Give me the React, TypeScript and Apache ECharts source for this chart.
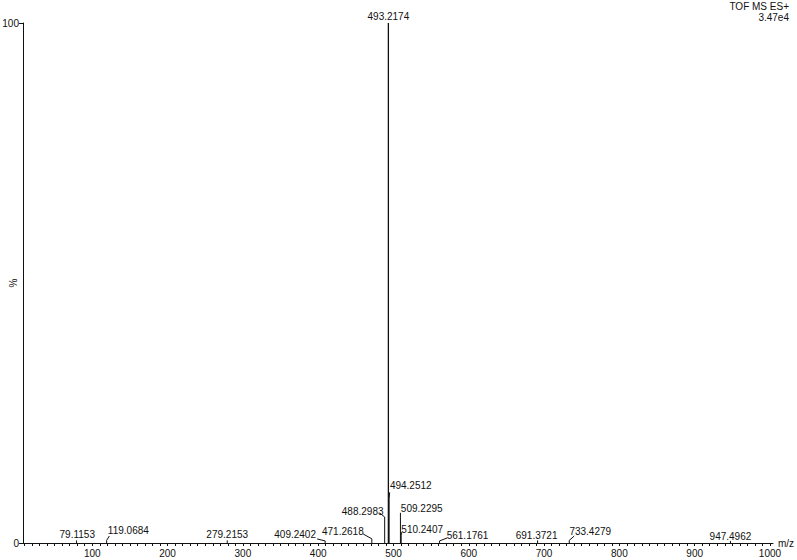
import React, { useEffect, useRef } from "react";
import * as echarts from "echarts";

// ---- data ----
const peakMz = [
  79.1153, 119.0684, 279.2153, 409.2402, 471.2618, 488.2983, 493.2174,
  494.2512, 509.2295, 510.2407, 561.1761, 691.3721, 733.4279, 947.4962,
];
const peakIntensity = [0.5, 0.5, 0.5, 0.4, 0.8, 5, 100, 8.5, 5.8, 1.5, 0.4, 0.5, 0.5, 0.4];
const peakLabels = [
  "79.1153", "119.0684", "279.2153", "409.2402", "471.2618", "488.2983", "493.2174",
  "494.2512", "509.2295", "510.2407", "561.1761", "691.3721", "733.4279", "947.4962",
];
const xTickLabels = [100, 200, 300, 400, 500, 600, 700, 800, 900, 1000];
const yTickLabels = [0, 100];
const titleLines = ["TOF MS ES+", "3.47e4"];
const yAxisTitle = "%";

// ---- label layout (pixel offsets from the peak top; leader end, or null) ----
const labelLayout: [number, number, number[] | null][] = [
  [0.7, -5.5, null],
  [21.7, -10.4, [2.7, -4.4]],
  [0, -5.5, null],
  [-30, -6, [-8, -2]],
  [-29, -7, [-8.6, -4.8]],
  [-22, -5.3, [-5, -4]],
  [0, -7, null],
  [21.6, -13.8, [0.5, -6.5]],
  [21.3, -4.5, null],
  [21, -6, [0.5, -3]],
  [28, -5.5, [7.7, -3]],
  [-1, -4.5, null],
  [21, -8.7, [5, -4.4]],
  [0, -4.5, null],
];

const INK = "#111111";
const FONT = '10px "Liberation Sans", Arial, sans-serif';

export default function App() {
  const ref = useRef<HTMLDivElement>(null);
  useEffect(() => {
    if (!ref.current) return;
    const chart = echarts.init(ref.current, undefined, { renderer: "svg" });
    const minorTicks: number[] = [];
    for (let v = 10; v <= 1000; v += 10) minorTicks.push(v);
    const data = peakMz.map((m, i) => [m, peakIntensity[i], i]);
    chart.setOption({
      animation: false,
      backgroundColor: "#ffffff",
      textStyle: { fontFamily: '"Liberation Sans", Arial, sans-serif' },
      grid: {
        left: 23,
        right: 24,
        top: 23,
        bottom: 17,
        containLabel: false,
        outerBoundsMode: "none",
      },
      graphic: [
        ...titleLines.map((t, i) => ({
          type: "text",
          right: 8,
          top: 1 + i * 11,
          style: { text: t, font: FONT, fill: INK, textAlign: "right", align: "right" },
        })),
        {
          type: "text",
          x: 13,
          y: 283,
          rotation: Math.PI / 2,
          style: {
            text: yAxisTitle,
            font: FONT,
            fill: INK,
            align: "center",
            verticalAlign: "middle",
            textAlign: "center",
            textVerticalAlign: "middle",
          },
        },
      ],
      xAxis: {
        type: "value",
        min: 8,
        max: 1004,
        name: "m/z",
        nameLocation: "end",
        nameGap: 5,
        nameTextStyle: { color: INK, fontSize: 10, fontFamily: '"Liberation Sans", Arial' },
        splitLine: { show: false },
        axisLine: { lineStyle: { color: INK, width: 1 } },
        axisTick: {
          show: true,
          customValues: minorTicks,
          length: 3,
          lineStyle: { color: INK, width: 1 },
        },
        axisLabel: {
          customValues: xTickLabels,
          formatter: (v: number) => String(v),
          color: INK,
          fontSize: 10,
          margin: 5,
          fontFamily: '"Liberation Sans", Arial',
        },
      },
      yAxis: {
        type: "value",
        min: 0,
        max: 100,
        interval: 100,
        splitLine: { show: false },
        axisLine: { show: true, lineStyle: { color: INK, width: 1 } },
        axisTick: { show: true, length: 4, lineStyle: { color: INK, width: 1 } },
        axisLabel: {
          customValues: yTickLabels,
          formatter: (v: number) => String(v),
          color: INK,
          fontSize: 10,
          margin: 4,
          fontFamily: '"Liberation Sans", Arial',
        },
      },
      series: [
        {
          type: "custom",
          data,
          encode: { x: 0, y: 1 },
          clip: false,
          renderItem: (params: any, api: any) => {
            const idx = api.value(2);
            const mz = api.value(0);
            const base = api.coord([mz, 0]);
            const top = api.coord([mz, api.value(1)]);
            const [dx, dy, leader] = labelLayout[idx];
            const children: any[] = [
              {
                type: "line",
                shape: { x1: base[0], y1: base[1], x2: top[0], y2: top[1] },
                style: { stroke: INK, lineWidth: idx === 6 ? 1.3 : 1 },
              },
              {
                type: "text",
                x: top[0] + dx,
                y: top[1] + dy,
                style: {
                  text: peakLabels[idx],
                  font: FONT,
                  fill: INK,
                  align: "center",
                  verticalAlign: "middle",
                  textAlign: "center",
                  textVerticalAlign: "middle",
                },
              },
            ];
            if (leader) {
              children.push({
                type: "line",
                shape: { x1: top[0], y1: top[1], x2: top[0] + leader[0], y2: top[1] + leader[1] },
                style: { stroke: INK, lineWidth: 1 },
              });
            }
            return { type: "group", children };
          },
        },
      ],
    });
    return () => chart.dispose();
  }, []);
  return (
    <div
      ref={ref}
      style={{ position: "absolute", left: 0, top: 0, width: 797, height: 560, background: "#fff" }}
    />
  );
}
